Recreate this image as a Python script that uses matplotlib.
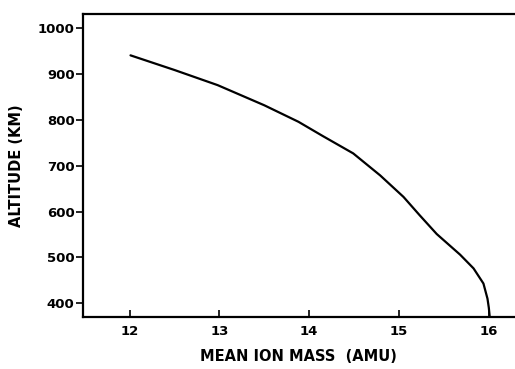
import matplotlib
matplotlib.use("Agg")
import matplotlib.pyplot as plt

mean_ion_mass = [12.01, 12.50, 12.98, 13.50, 13.88, 14.15, 14.49, 14.79, 15.05, 15.23, 15.42, 15.68, 15.83, 15.94, 15.985, 16.0, 16.01]
altitude_km = [941, 909, 876, 832, 796, 765, 727, 679, 632, 592, 551, 506, 476, 443, 410, 390, 370]

x_ticks = [12, 13, 14, 15, 16]
y_ticks = [400, 500, 600, 700, 800, 900, 1000]

fig = plt.figure(figsize=(5.15, 3.69), dpi=100)
ax = fig.add_axes([0.161, 0.141, 0.837, 0.822])
ax.plot(mean_ion_mass, altitude_km, color="black", lw=1.6,
        solid_capstyle="round", solid_joinstyle="round")
ax.set_xlim(11.48, 16.28)
ax.set_ylim(370, 1032)
ax.set_xticks(x_ticks)
ax.set_yticks(y_ticks)
ax.set_xticklabels([str(t) for t in x_ticks], fontsize=9.5, fontweight="bold")
ax.set_yticklabels([str(t) for t in y_ticks], fontsize=9.5, fontweight="bold")
ax.tick_params(axis="x", direction="in", length=5, width=1.2, pad=6)
ax.tick_params(axis="y", direction="out", length=5, width=1.2, pad=1)
for s in ["left", "bottom", "top"]:
    ax.spines[s].set_linewidth(1.6)
ax.spines["right"].set_visible(False)
ax.set_xlabel("MEAN ION MASS  (AMU)", fontsize=10.5, fontweight="bold", labelpad=8)
ax.set_ylabel("ALTITUDE (KM)", fontsize=10.5, fontweight="bold", labelpad=10)
fig.savefig("out.png", dpi=100)
